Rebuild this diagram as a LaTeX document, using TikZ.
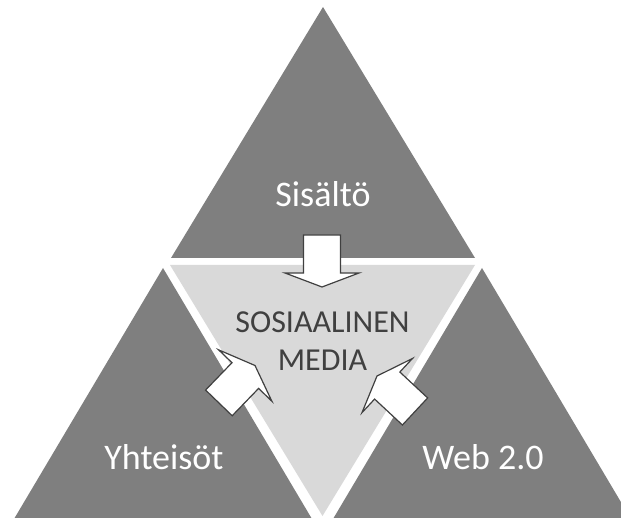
\documentclass[tikz,border=0pt]{standalone}
\usepackage{fontspec}
\setmainfont{Carlito}
\definecolor{darkfill}{HTML}{7F7F7F}
\definecolor{lightfill}{HTML}{D9D9D9}
\definecolor{outl}{HTML}{404040}
\newcommand\blockarrowat[2]{%
  \draw[blockarrow,shift={#1},rotate=#2] (0,0) -- (-14,37) -- (-14,18.5) -- (-52,18.5)
    -- (-52,-18.5) -- (-14,-18.5) -- (-14,-37) -- cycle;}
\begin{document}
\begin{tikzpicture}[x=1pt,y=1pt,
  darktri/.style={fill=darkfill},
  lighttri/.style={fill=lightfill},
  blockarrow/.style={fill=white,draw=outl,line width=1.2pt,line join=miter},
  outerlabel/.style={text=white,font=\fontsize{36}{43}\selectfont,inner sep=0pt,anchor=base},
  innerlabel/.style={text=outl,font=\fontsize{32}{38}\selectfont,align=center,inner sep=0pt}]
\useasboundingbox (0,0) rectangle (621,517);
\clip (0,0) rectangle (621,517);
% triangles
\fill[darktri] (323,510) -- (171,259) -- (475,259) -- cycle;
\fill[lighttri] (170,252) -- (475,252) -- (322.5,1) -- cycle;
\fill[darktri] (163,249) -- (14,-2) -- (312,-2) -- cycle;
\fill[darktri] (482,249) -- (333,-2) -- (631,-2) -- cycle;
% block arrows
\blockarrowat{(322,230)}{-90}
\blockarrowat{(255,151.5)}{46}
\blockarrowat{(377,141)}{137}
% labels
\node[outerlabel] (sisalto) at (323,310) {Sisältö};
\node[outerlabel] (yhteisot) at (164,48) {Yhteisöt};
\node[outerlabel] (web) at (483,48) {Web 2.0};
\node[innerlabel] (some) at (322.5,176) {SOSIAALINEN\\MEDIA};
\end{tikzpicture}
\end{document}
